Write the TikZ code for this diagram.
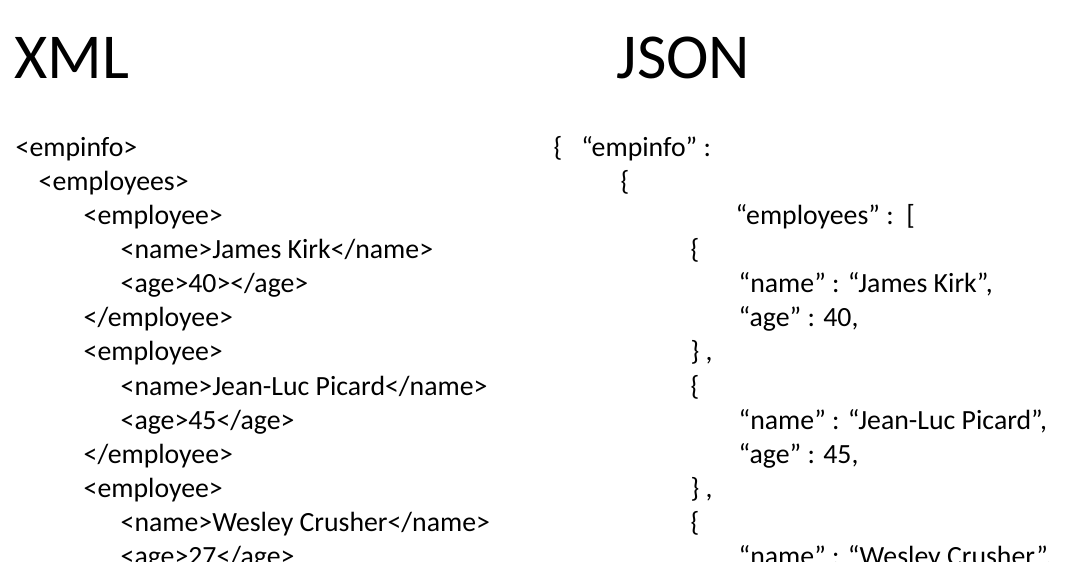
\documentclass[tikz,border=0pt]{standalone}
\usepackage{fontspec}
\setmainfont{Carlito}
\begin{document}
\begin{tikzpicture}[x=0.01cm,y=-0.01cm,
  code/.style={anchor=base west,inner sep=0pt,font=\fontsize{7.9pt}{9pt}\selectfont},
  title/.style={anchor=base west,inner sep=0pt,font=\fontsize{18.2pt}{20pt}\selectfont}]
  \useasboundingbox (0,0) rectangle (1080,562);
  \clip (0,0) rectangle (1080,562);
  \node[title] (xmltitle) at (14,79) {XML};
  \node[title] (jsontitle) at (616,79) {JSON};
  % XML side
  \node[code] (x1) at (15,157) {<empinfo>};
  \node[code] (x2) at (38,191) {<employees>};
  \node[code] (x3) at (83,225) {<employee>};
  \node[code] (x4) at (120,259) {<name>James Kirk</name>};
  \node[code] (x5) at (120,293) {<age>40></age>};
  \node[code] (x6) at (83,327) {</employee>};
  \node[code] (x7) at (83,361) {<employee>};
  \node[code] (x8) at (120,396) {<name>Jean-Luc Picard</name>};
  \node[code] (x9) at (120,430) {<age>45</age>};
  \node[code] (x10) at (83,464) {</employee>};
  \node[code] (x11) at (83,498) {<employee>};
  \node[code] (x12) at (120,532) {<name>Wesley Crusher</name>};
  \node[code] (x13) at (120,566) {<age>27</age>};
  % JSON side
  \node[code] (j1) at (553,157) {\{\ \ \ “empinfo” :};
  \node[code] (j2) at (620,191) {\{};
  \node[code] (j3) at (735,225) {“employees” :\ \ [};
  \node[code] (j4) at (690,259) {\{};
  \node[code] (j5) at (738,293) {“name” : “James Kirk”,};
  \node[code] (j6) at (738,327) {“age” : 40,};
  \node[code] (j7) at (690,361) {\} ,};
  \node[code] (j8) at (690,396) {\{};
  \node[code] (j9) at (738,430) {“name” : “Jean-Luc Picard”,};
  \node[code] (j10) at (738,464) {“age” : 45,};
  \node[code] (j11) at (690,498) {\} ,};
  \node[code] (j12) at (690,532) {\{};
  \node[code] (j13) at (738,566) {“name” : “Wesley Crusher”,};
\end{tikzpicture}
\end{document}
